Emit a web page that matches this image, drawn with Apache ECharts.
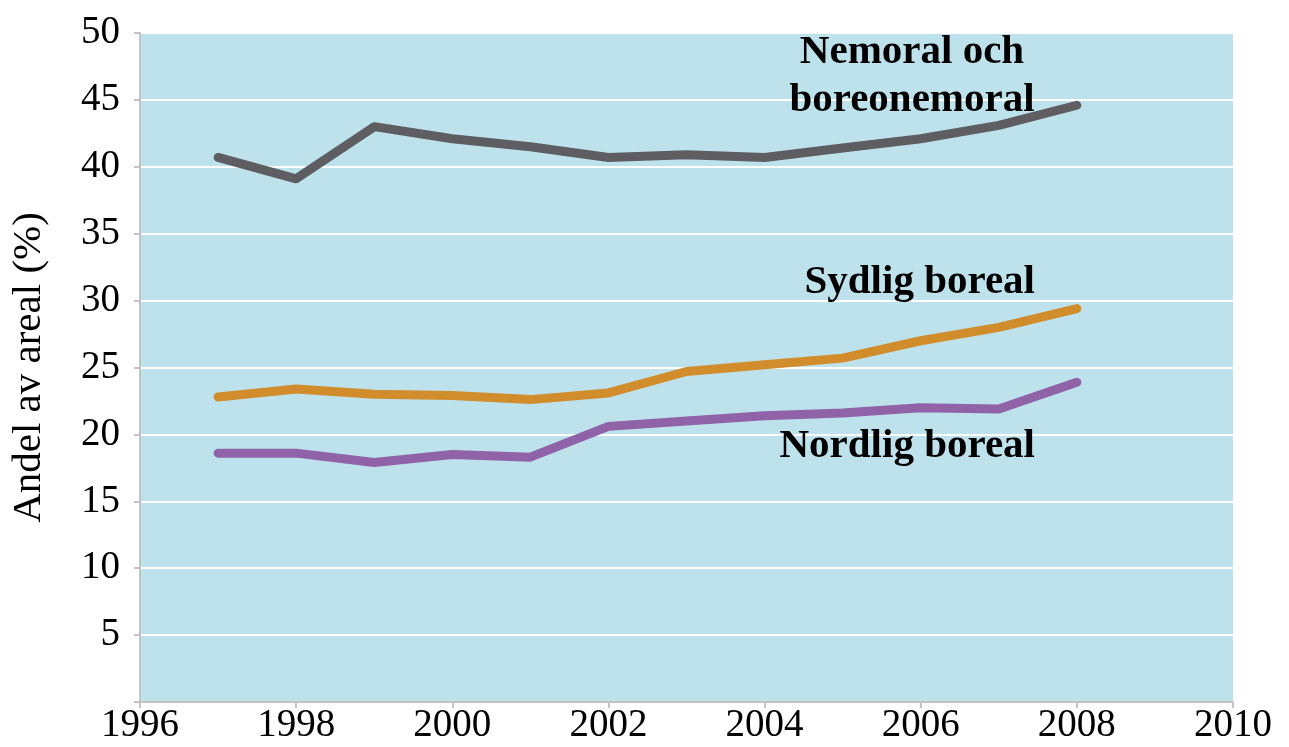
<!DOCTYPE html>
<html>
<head>
<meta charset="utf-8">
<script src="https://cdn.jsdelivr.net/npm/echarts@6/dist/echarts.min.js"></script>
<style>
  html, body { margin: 0; padding: 0; background: #fff; }
  #chart { width: 1289px; height: 747px; }
</style>
</head>
<body>
<div id="chart"></div>
<script>
// år och andel av areal (%)
const years = [1997, 1998, 1999, 2000, 2001, 2002, 2003, 2004, 2005, 2006, 2007, 2008];
const nemoral = [40.7, 39.1, 43.0, 42.1, 41.5, 40.7, 40.9, 40.7, 41.4, 42.1, 43.1, 44.6];
const sydlig = [22.8, 23.4, 23.0, 22.9, 22.6, 23.1, 24.7, 25.2, 25.7, 27.0, 28.0, 29.4];
const nordlig = [18.6, 18.6, 17.9, 18.5, 18.3, 20.6, 21.0, 21.4, 21.6, 22.0, 21.9, 23.9];
const labels = ['Nemoral och\nboreonemoral', 'Sydlig boreal', 'Nordlig boreal'];

const toPairs = (vals) => years.map((y, i) => [y, vals[i]]);

let myChart = echarts.init(document.getElementById('chart'));

const font = '"Liberation Serif", "Times New Roman", serif';

function lineSeries(name, vals, color) {
    return {
        name: name,
        type: 'line',
        data: toPairs(vals),
        symbol: 'none',
        lineStyle: { width: 9, color: color, cap: 'round', join: 'round' },
        itemStyle: { color: color },
        z: 3
    };
}

let option = {
    animation: false,
    textStyle: { fontFamily: font },
    grid: { left: 140, top: 33, right: 56, bottom: 45, backgroundColor: '#bde2ec', show: true, borderWidth: 0 },
    xAxis: {
        type: 'value',
        min: 1996,
        max: 2010,
        interval: 2,
        axisLine: { show: true, lineStyle: { color: '#c3c3c3', width: 2 } },
        axisTick: { show: true, length: 6, lineStyle: { color: '#c3c3c3', width: 2 } },
        splitLine: { show: false },
        axisLabel: {
            color: '#000', fontSize: 39, fontFamily: font, margin: 4,
            formatter: (v) => String(v)
        }
    },
    yAxis: {
        type: 'value',
        min: 0,
        max: 50,
        interval: 5,
        name: 'Andel av areal (%)',
        nameLocation: 'middle',
        nameGap: 90,
        nameTextStyle: { color: '#000', fontSize: 41, fontFamily: font },
        axisLine: { show: true, lineStyle: { color: '#c3c3c3', width: 2 } },
        axisTick: { show: true, length: 6, lineStyle: { color: '#c3c3c3', width: 2 } },
        splitLine: { show: true, lineStyle: { color: '#ffffff', width: 2 } },
        axisLabel: {
            color: '#000', fontSize: 39, fontFamily: font, margin: 20,
            formatter: (v) => v === 0 ? '' : String(v)
        }
    },
    series: [
        lineSeries('Nemoral', nemoral, '#5e5e62'),
        lineSeries('Sydlig', sydlig, '#d18d2b'),
        lineSeries('Nordlig', nordlig, '#9063a8')
    ],
    graphic: [
        {
            type: 'text', x: 912, y: 28, z: 10,
            style: { text: labels[0], font: 'bold 41px ' + font, fill: '#000', align: 'center', lineHeight: 48 }
        },
        {
            type: 'text', x: 1035, y: 262, z: 10,
            style: { text: labels[1], font: 'bold 41px ' + font, fill: '#000', align: 'right' }
        },
        {
            type: 'text', x: 1035, y: 426, z: 10,
            style: { text: labels[2], font: 'bold 41px ' + font, fill: '#000', align: 'right' }
        }
    ]
};

myChart.setOption(option);
</script>
</body>
</html>
